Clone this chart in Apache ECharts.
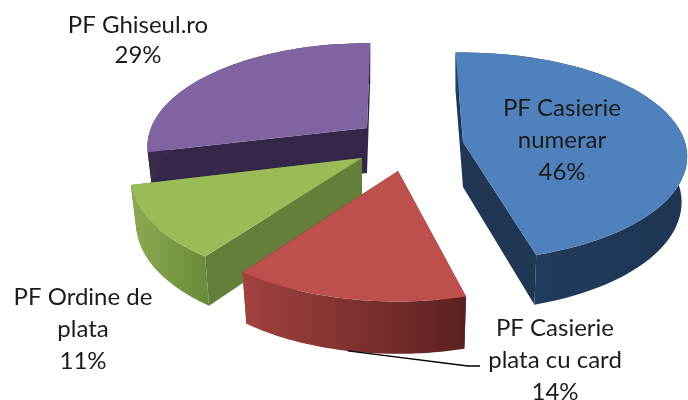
<!DOCTYPE html>
<html>
<head>
<meta charset="utf-8">
<style>
html, body { margin: 0; padding: 0; background: #fff; }
#chart { width: 688px; height: 400px; }
</style>
<script src="https://cdn.jsdelivr.net/npm/echarts@6/dist/echarts.min.js"></script>
</head>
<body>
<div id="chart"></div>
<script>
// data
const names = ['PF Casierie\nnumerar', 'PF Casierie\nplata cu card', 'PF Ordine de\nplata', 'PF Ghiseul.ro'];
const percents = [46, 14, 11, 29];

// 3D look: every slice has its own apex and perspective (exploded pie)
const sliceLayout = [
    { apex: [463, 142], rx: 222, ry: 102, k: 0.14, rot: -2.2, depth: 45, grow: 0.11, order: 3 },
    { apex: [398, 171], rx: 226, ry: 107, k: 0.18, rot: 0, depth: 48, grow: 0.09, order: 2 },
    { apex: [362, 158], rx: 228, ry: 104, k: 0.18, rot: 0, depth: 45, grow: 0.12, order: 1 },
    { apex: [367, 128], rx: 216, ry: 100, k: 0.18, rot: 1, depth: 45, grow: 0.1, order: 0 }
];
const sliceStyle = [
    { top: '#4f81bd', wall: '#1f3655', outer: ['#243f63', '#1e3553'] },
    { top: '#bd4f4c', wall: '#7a2e2c', outer: ['#a2423f', '#5a2120'] },
    { top: '#9bbb59', wall: '#657f3a', outer: ['#8cab50', '#6a8a3c'] },
    { top: '#8063a1', wall: '#35274a', outer: ['#3a2a4c', '#35274a'] }
];
const labelPos = [[562, 140], [555, 360], [83, 329], [138, 40]];
const labelLineHeight = [32, 32, 32, 30];
const labelColor = '#1c1c1c';

function project(s, deg) {
    let a = (deg + s.rot) * Math.PI / 180;
    let u = Math.sin(a);
    let v = -Math.cos(a);
    let f = 1 - s.k * v;
    return { x: s.apex[0] + s.rx * u / f, y: s.apex[1] + s.ry * v / f, v: v };
}

// same point on the lower face of the slice
function lower(s, p) {
    return [s.apex[0] + (p.x - s.apex[0]) * 0.975, p.y + s.depth * (1 + s.grow * p.v)];
}

function renderSlice(params, api) {
    let i = params.dataIndex;
    let s = sliceLayout[i];
    let st = sliceStyle[i];
    let total = percents.reduce((a, b) => a + b, 0);
    let before = percents.slice(0, i).reduce((a, b) => a + b, 0);
    let start = before / total * 360;
    let end = start + api.value(0) / total * 360;

    let arc = [];
    for (let n = 0; n <= 60; n++) {
        arc.push(project(s, start + (end - start) * n / 60));
    }
    let topFace = [s.apex].concat(arc.map(p => [p.x, p.y]));
    let outerWall = arc.map(p => [p.x, p.y]).concat(arc.map(p => lower(s, p)).reverse());
    let apexLow = [s.apex[0], s.apex[1] + s.depth];
    let first = arc[0];
    let last = arc[arc.length - 1];
    let z = s.order * 10;

    let children = [
        { type: 'polygon', z2: z, shape: { points: [s.apex, [first.x, first.y], lower(s, first), apexLow] }, style: { fill: st.wall } },
        { type: 'polygon', z2: z + 1, shape: { points: [s.apex, [last.x, last.y], lower(s, last), apexLow] }, style: { fill: st.wall } },
        {
            type: 'polygon', z2: z + 2, shape: { points: outerWall },
            style: {
                fill: {
                    type: 'linear', x: 0, y: 0, x2: 1, y2: 0,
                    colorStops: [{ offset: 0, color: st.outer[0] }, { offset: 1, color: st.outer[1] }]
                }
            }
        },
        { type: 'polygon', z2: z + 3, shape: { points: topFace }, style: { fill: st.top } },
        {
            type: 'text', z2: 100,
            style: {
                x: labelPos[i][0], y: labelPos[i][1],
                text: names[i] + '\n' + api.value(0) + '%',
                fill: labelColor, font: '24px Lato',
                align: 'center', verticalAlign: 'middle', lineHeight: labelLineHeight[i]
            }
        }
    ];

    // leader line of the red slice starts on its lower edge, at the middle of the arc
    if (i === 1) {
        let m = lower(s, project(s, (start + end) / 2));
        children.push({
            type: 'polyline', z2: 99,
            shape: { points: [m, [468, 366], [480, 366]] },
            style: { fill: 'none', stroke: '#000', lineWidth: 1.3 }
        });
    }
    return { type: 'group', children: children };
}

const chart = echarts.init(document.getElementById('chart'));
chart.setOption({
    animation: false,
    backgroundColor: '#fff',
    series: [{
        type: 'custom',
        coordinateSystem: 'none',
        renderItem: renderSlice,
        data: percents.map(p => [p])
    }]
});
</script>
</body>
</html>
